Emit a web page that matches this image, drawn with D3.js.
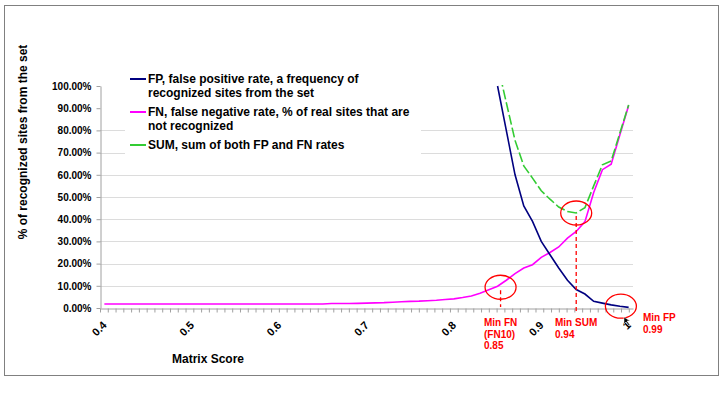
<!DOCTYPE html>
<meta charset="utf-8">
<script src="https://d3js.org/d3.v7.min.js"></script>
<style>
  body { margin: 0; background: #fff; }
  svg text { font-family: Arial, "Liberation Sans", sans-serif; font-weight: bold; }
</style>
<body>
<div id="my_dataviz"></div>
<script>
  // matrix score categories
  var scores = [0.40, 0.41, 0.42, 0.43, 0.44, 0.45, 0.46, 0.47, 0.48, 0.49,
    0.50, 0.51, 0.52, 0.53, 0.54, 0.55, 0.56, 0.57, 0.58, 0.59,
    0.60, 0.61, 0.62, 0.63, 0.64, 0.65, 0.66, 0.67, 0.68, 0.69,
    0.70, 0.71, 0.72, 0.73, 0.74, 0.75, 0.76, 0.77, 0.78, 0.79,
    0.80, 0.81, 0.82, 0.83, 0.84, 0.85, 0.86, 0.87, 0.88, 0.89,
    0.90, 0.91, 0.92, 0.93, 0.94, 0.95, 0.96, 0.97, 0.98, 0.99, 1.00];

  // FP, false positive rate (%) - only from 0.85 on
  var fpRate = [null, null, null, null, null, null, null, null, null, null,
    null, null, null, null, null, null, null, null, null, null,
    null, null, null, null, null, null, null, null, null, null,
    null, null, null, null, null, null, null, null, null, null,
    null, null, null, null, null, 100, 80, 60, 46, 39,
    30, 24, 18, 12.5, 8.3, 6.3, 3.0, 2.2, 1.4, 0.8, 0.3];

  // FN, false negative rate (%)
  var fnRate = [1.8, 1.8, 1.8, 1.8, 1.8, 1.8, 1.8, 1.8, 1.8, 1.8,
    1.8, 1.8, 1.8, 1.8, 1.8, 1.8, 1.8, 1.8, 1.8, 1.8,
    1.8, 1.8, 1.8, 1.8, 1.8, 1.8, 2.0, 2.0, 2.0, 2.1,
    2.2, 2.3, 2.4, 2.6, 2.8, 3.0, 3.1, 3.3, 3.5, 3.8,
    4.1, 4.7, 5.4, 6.6, 8.2, 9.8, 12.5, 15.5, 18.0, 19.5,
    22.8, 25.0, 27.5, 31.5, 34.5, 38.9, 52.0, 62.3, 64.8, 78.0, 91.2];

  // SUM of both rates (%)
  var sumRate = [null, null, null, null, null, null, null, null, null, null,
    null, null, null, null, null, null, null, null, null, null,
    null, null, null, null, null, null, null, null, null, null,
    null, null, null, null, null, null, null, null, null, null,
    null, null, null, null, null, 109.8, 92.5, 75.5, 64.0, 58.5,
    52.8, 49.0, 45.5, 43.5, 42.8, 45.2, 55.0, 64.5, 66.2, 78.8, 91.5];

  var yTicks = [0, 0.1, 0.2, 0.3, 0.4, 0.5, 0.6, 0.7, 0.8, 0.9, 1.0];
  var xLabels = [0.4, 0.5, 0.6, 0.7, 0.8, 0.9, 1];

  var seriesNames = ["FP, false positive rate, a frequency of|recognized sites from the set",
    "FN, false negative rate, % of real sites that are|not recognized",
    "SUM, sum of both FP and FN rates"];
  var colors = ["#000080", "#ff00ff", "#33cc33"];

  // minima marked on the chart
  var marks = [
    { score: 0.85, value: 9.8, label: ["Min FN", "(FN10)", "0.85"], dash: true },
    { score: 0.94, value: 42.8, label: ["Min SUM", "0.94"], dash: true },
    { score: 0.99, value: 0.8, label: ["Min FP", "0.99"], dash: false }
  ];

  var W = 724, H = 397;
  var svg = d3.select("#my_dataviz").append("svg")
    .attr("width", W).attr("height", H);

  // outer frame
  svg.append("rect")
    .attr("x", 4.5).attr("y", 5.5).attr("width", 714).attr("height", 370)
    .attr("fill", "#fff").attr("stroke", "#808080").attr("stroke-width", 1);

  var x = d3.scaleLinear().domain([0.395, 1.005]).range([100, 633]);
  var y = d3.scaleLinear().domain([0, 1]).range([308, 86]);

  // gridlines
  svg.append("g").selectAll("line")
    .data(yTicks.filter(function (d) { return d > 0 && d < 0.85; }))
    .enter().append("line")
    .attr("x1", 100).attr("x2", 633)
    .attr("y1", function (d) { return Math.round(y(d)) + 0.5; })
    .attr("y2", function (d) { return Math.round(y(d)) + 0.5; })
    .attr("stroke", "#dcdcdc").attr("stroke-width", 1);

  // y axis
  var yAxis = svg.append("g")
    .attr("transform", "translate(100.5,0)")
    .call(d3.axisLeft(y).tickValues(yTicks).tickSize(4).tickSizeOuter(0)
      .tickFormat(function (d) { return d3.format(".2f")(d * 100) + "%"; }));
  yAxis.select(".domain").attr("stroke", "#a0a0a0");
  yAxis.selectAll(".tick line").attr("stroke", "#a0a0a0");
  yAxis.selectAll(".tick text").attr("x", -9).attr("font-size", "10px").attr("fill", "#000");

  // x axis with small ticks
  var xAxis = svg.append("g")
    .attr("transform", "translate(0,308.5)")
    .call(d3.axisBottom(x).tickValues(d3.range(0.395, 1.0051, 0.0089)).tickSize(4)
      .tickSizeOuter(0).tickFormat(""));
  xAxis.select(".domain").attr("stroke", "#a0a0a0");
  xAxis.selectAll(".tick line").attr("stroke", "#a0a0a0");

  svg.append("g").selectAll("text")
    .data(xLabels).enter().append("text")
    .attr("transform", function (d) { return "translate(" + (x(d) + 3) + ",326) rotate(-45)"; })
    .attr("text-anchor", "end")
    .attr("font-size", "11px")
    .text(function (d) { return d; });

  // axis titles
  svg.append("text")
    .attr("transform", "translate(27,142) rotate(-90)")
    .attr("text-anchor", "middle")
    .attr("font-size", "12px")
    .text("% of recognized sites from the set");
  svg.append("text")
    .attr("x", 208).attr("y", 363)
    .attr("text-anchor", "middle")
    .attr("font-size", "12px")
    .text("Matrix Score");

  // clip to plot area
  svg.append("clipPath").attr("id", "plotClip")
    .append("rect").attr("x", 100).attr("y", 85).attr("width", 540).attr("height", 230);

  var line = d3.line()
    .defined(function (d) { return d[1] != null; })
    .x(function (d) { return x(d[0]); })
    .y(function (d) { return y(d[1] / 100); });

  var plot = svg.append("g").attr("clip-path", "url(#plotClip)");
  [fnRate, sumRate, fpRate].forEach(function (s, i) {
    var idx = [1, 2, 0][i];
    plot.append("path")
      .datum(scores.map(function (c, j) { return [c, s[j]]; }))
      .attr("fill", "none")
      .attr("stroke", colors[idx])
      .attr("stroke-width", 1.6)
      .attr("stroke-dasharray", idx == 2 ? "10,3" : null)
      .attr("d", line);
  });

  // legend box
  var legend = svg.append("g");
  legend.append("rect")
    .attr("x", 125).attr("y", 70).attr("width", 296).attr("height", 84)
    .attr("fill", "#fff");
  var legendY = [79, 112, 145];
  seriesNames.forEach(function (name, i) {
    legend.append("line")
      .attr("x1", 130).attr("x2", 146)
      .attr("y1", legendY[i]).attr("y2", legendY[i])
      .attr("stroke", colors[i]).attr("stroke-width", 2);
    var t = legend.append("text")
      .attr("x", 148).attr("y", legendY[i] + 4)
      .attr("font-size", "12px");
    name.split("|").forEach(function (part, k) {
      t.append("tspan").attr("x", 148).attr("dy", k == 0 ? 0 : 14).text(part);
    });
  });

  // annotations
  var ann = svg.append("g");
  marks.forEach(function (m, i) {
    var cx = x(m.score) + [3, 0, 1][i];
    var cy = y(m.value / 100) + [1, 0, 0][i];
    ann.append("ellipse")
      .attr("cx", cx).attr("cy", cy).attr("rx", 15.5).attr("ry", 12)
      .attr("fill", "none").attr("stroke", "#ff0000").attr("stroke-width", 1.3);
    if (m.dash) {
      ann.append("line")
        .attr("x1", cx).attr("x2", cx)
        .attr("y1", cy + 3).attr("y2", i == 0 ? 307 : 313)
        .attr("stroke", "#ff0000").attr("stroke-width", 1.3)
        .attr("stroke-dasharray", "4,3");
    }
    var lx = [484, 555, 643][i], ly = [326, 326, 321][i];
    var t = ann.append("text")
      .attr("x", lx).attr("y", ly)
      .attr("fill", "#ff0000").attr("font-size", "10px");
    m.label.forEach(function (s, k) {
      t.append("tspan").attr("x", lx).attr("dy", k == 0 ? 0 : 11.5).text(s);
    });
  });

  // mouse pointer left in the screenshot
  svg.append("path")
    .attr("d", "M624,317 L624,324 L626,322 L629,326 L630,325 L627,321 L630,321 Z")
    .attr("fill", "#000").attr("stroke", "#fff").attr("stroke-width", 0.5);
</script>
</body>
